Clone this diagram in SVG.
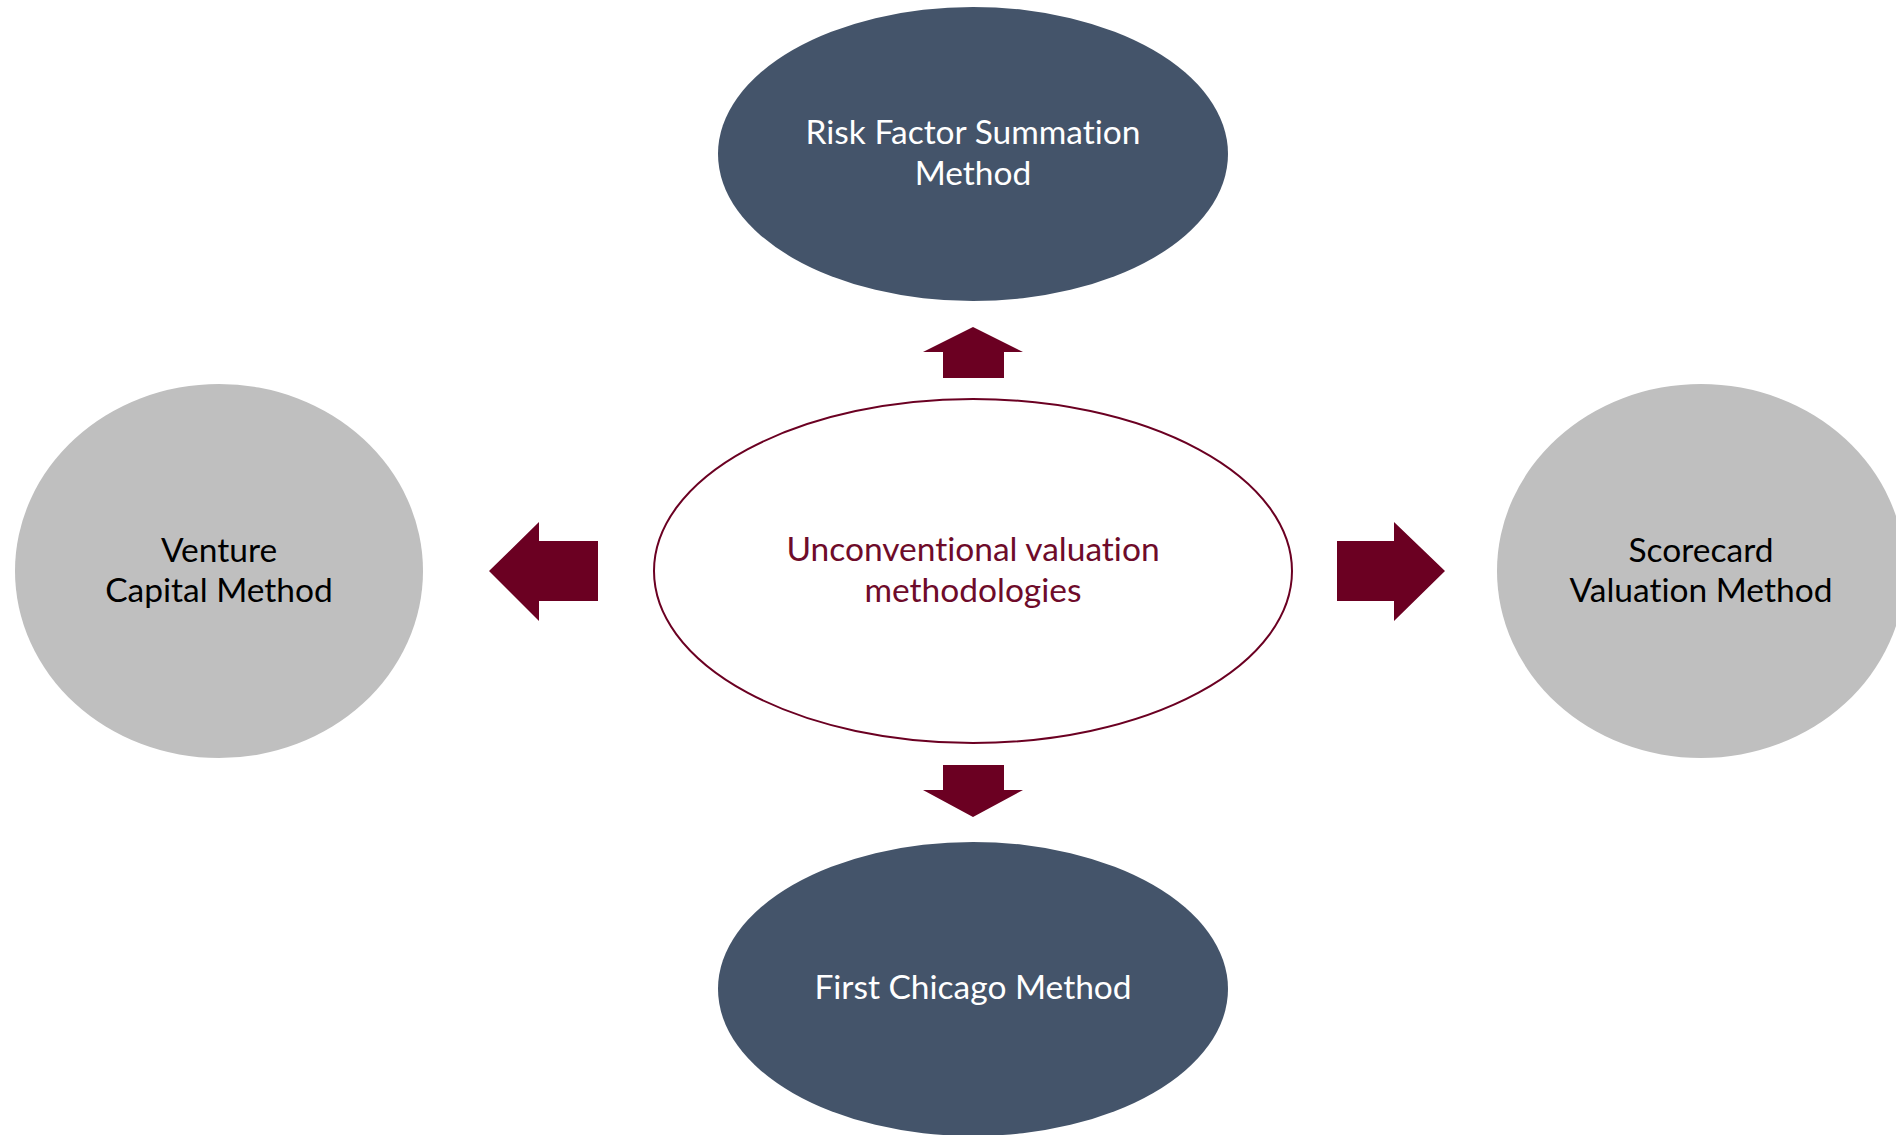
<svg xmlns="http://www.w3.org/2000/svg" width="1896" height="1135" viewBox="0 0 1896 1135">
  <style>
    .lbl { font-family: Lato, "Open Sans", "Liberation Sans", sans-serif; font-size: 33.5px; text-anchor: middle; font-variant-ligatures: none; }
    .light { fill: #ffffff; }
    .dark { fill: #000000; }
    .core { fill: #6e0b2a; }
    .slate { fill: #44546a; }
    .grey { fill: #bfbfbf; }
    .arrow { fill: #6b0022; }
  </style>
  <rect width="1896" height="1135" fill="#ffffff"/>

  <!-- central topic -->
  <g id="node-center">
    <ellipse cx="973" cy="571" rx="319" ry="172" fill="#ffffff" stroke="#6b0022" stroke-width="2"/>
    <text class="lbl core" x="973" y="561">Unconventional valuation</text>
    <text class="lbl core" x="973" y="602">methodologies</text>
  </g>

  <!-- methods -->
  <g id="node-risk-factor">
    <ellipse class="slate" cx="973" cy="154" rx="255" ry="147"/>
    <text class="lbl light" x="973" y="144">Risk Factor Summation</text>
    <text class="lbl light" x="973" y="185">Method</text>
  </g>
  <g id="node-venture-capital">
    <ellipse class="grey" cx="219" cy="571" rx="204" ry="187"/>
    <text class="lbl dark" x="219" y="562">Venture</text>
    <text class="lbl dark" x="219" y="602">Capital Method</text>
  </g>
  <g id="node-scorecard">
    <ellipse class="grey" cx="1701" cy="571" rx="204" ry="187"/>
    <text class="lbl dark" x="1701" y="562">Scorecard</text>
    <text class="lbl dark" x="1701" y="602">Valuation Method</text>
  </g>
  <g id="node-first-chicago">
    <ellipse class="slate" cx="973" cy="989" rx="255" ry="147"/>
    <text class="lbl light" x="973" y="999">First Chicago Method</text>
  </g>

  <!-- block arrows from the centre outwards -->
  <g id="connectors">
    <polygon class="arrow" points="973,327 1023,352 1004,352 1004,378 943,378 943,352 923,352"/>
    <polygon class="arrow" points="973,817 1023,790 1004,790 1004,765 943,765 943,790 923,790"/>
    <polygon class="arrow" points="489,571 539,522 539,541 598,541 598,601 539,601 539,621"/>
    <polygon class="arrow" points="1445,571 1394,522 1394,541 1337,541 1337,601 1394,601 1394,621"/>
  </g>
</svg>
